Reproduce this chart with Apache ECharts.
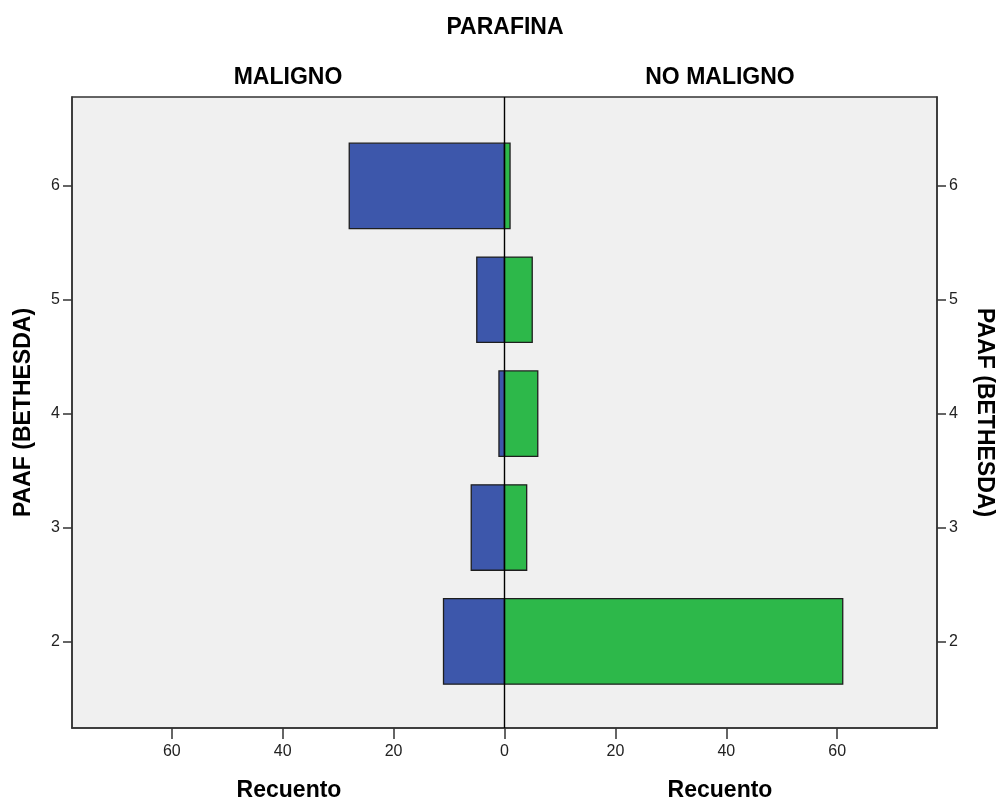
<!DOCTYPE html>
<html>
<head>
<meta charset="utf-8">
<script src="https://cdn.jsdelivr.net/npm/echarts@6/dist/echarts.min.js"></script>
<style>
html,body{margin:0;padding:0;background:#fff;}
#chart{width:1001px;height:802px;}
</style>
</head>
<body>
<div id="chart"></div>
<script>
// Data
var categories = [2, 3, 4, 5, 6];               // PAAF (BETHESDA)
var malignoCounts = [11, 6, 1, 5, 28];          // MALIGNO (left)
var noMalignoCounts = [61, 4, 6, 5, 1];         // NO MALIGNO (right)
var xTickValues = [-60, -40, -20, 0, 20, 40, 60];
var yTickValues = [2, 3, 4, 5, 6];

var FONT = "'Liberation Sans', Arial, sans-serif";
var HALF = 0.375;

var malignoData = categories.map(function (c, i) { return [-malignoCounts[i], c]; });
var noMalignoData = categories.map(function (c, i) { return [noMalignoCounts[i], c]; });

function renderBar(params, api) {
  var v = api.value(0), y = api.value(1);
  var p0 = api.coord([0, y + HALF]);
  var p1 = api.coord([v, y - HALF]);
  return {
    type: 'rect',
    shape: {
      x: Math.min(p0[0], p1[0]),
      y: p0[1],
      width: Math.abs(p1[0] - p0[0]),
      height: p1[1] - p0[1]
    },
    style: { fill: api.visual('color'), stroke: '#1e1e1e', lineWidth: 1.3 }
  };
}

var chart = echarts.init(document.getElementById('chart'), null, { renderer: 'canvas' });

var yAxisCommon = {
  type: 'value',
  min: 1.24,
  max: 6.78,
  splitLine: { show: false },
  axisLine: { show: true, onZero: false, lineStyle: { color: '#333', width: 1.5 } },
  axisTick: { show: true, inside: false, customValues: yTickValues, length: 9, lineStyle: { color: '#333', width: 1.5 } },
  axisLabel: { customValues: yTickValues, color: '#222', fontSize: 16, fontFamily: FONT, margin: 12 },
  name: 'PAAF (BETHESDA)',
  nameLocation: 'middle',
  nameGap: 37,
  nameTextStyle: { fontSize: 23, fontWeight: 'bold', fontFamily: FONT, color: '#000' }
};

var option = {
  animation: false,
  backgroundColor: '#ffffff',
  grid: {
    left: 72, right: 64, top: 97, bottom: 74,
    outerBoundsMode: 'none',
    containLabel: false,
    show: true, backgroundColor: '#f0f0f0', borderColor: '#333', borderWidth: 1.5
  },
  xAxis: {
    type: 'value',
    min: -78,
    max: 78,
    splitLine: { show: false },
    axisLine: { show: true, onZero: false, lineStyle: { color: '#333', width: 1.5 } },
    axisTick: { show: true, inside: false, customValues: xTickValues, length: 11, lineStyle: { color: '#333', width: 1.5 } },
    axisLabel: {
      customValues: xTickValues, color: '#222', fontSize: 16, fontFamily: FONT, margin: 16,
      formatter: function (v) { return String(Math.abs(v)); }
    }
  },
  yAxis: [
    Object.assign({}, yAxisCommon, { position: 'left', nameRotate: 90 }),
    Object.assign({}, yAxisCommon, { position: 'right', nameRotate: -90, nameGap: 36 })
  ],
  series: [
    {
      name: 'MALIGNO', type: 'custom', renderItem: renderBar,
      encode: { x: 0, y: 1 }, data: malignoData, itemStyle: { color: '#3d57ab' }
    },
    {
      name: 'NO MALIGNO', type: 'custom', renderItem: renderBar,
      encode: { x: 0, y: 1 }, data: noMalignoData, itemStyle: { color: '#2db84a' },
      markLine: {
        silent: true, symbol: 'none', label: { show: false },
        lineStyle: { color: '#000', width: 1.4, type: 'solid' },
        data: [{ xAxis: 0 }], z: 10
      }
    }
  ],
  graphic: [
    { type: 'text', x: 505, y: 28, style: { text: 'PARAFINA', font: 'bold 23px ' + FONT, fill: '#000', textAlign: 'center', textVerticalAlign: 'middle' } },
    { type: 'text', x: 288, y: 78, style: { text: 'MALIGNO', font: 'bold 23px ' + FONT, fill: '#000', textAlign: 'center', textVerticalAlign: 'middle' } },
    { type: 'text', x: 720, y: 78, style: { text: 'NO MALIGNO', font: 'bold 23px ' + FONT, fill: '#000', textAlign: 'center', textVerticalAlign: 'middle' } },
    { type: 'text', x: 289, y: 791, style: { text: 'Recuento', font: 'bold 23px ' + FONT, fill: '#000', textAlign: 'center', textVerticalAlign: 'middle' } },
    { type: 'text', x: 720, y: 791, style: { text: 'Recuento', font: 'bold 23px ' + FONT, fill: '#000', textAlign: 'center', textVerticalAlign: 'middle' } }
  ]
};

chart.setOption(option);
</script>
</body>
</html>
